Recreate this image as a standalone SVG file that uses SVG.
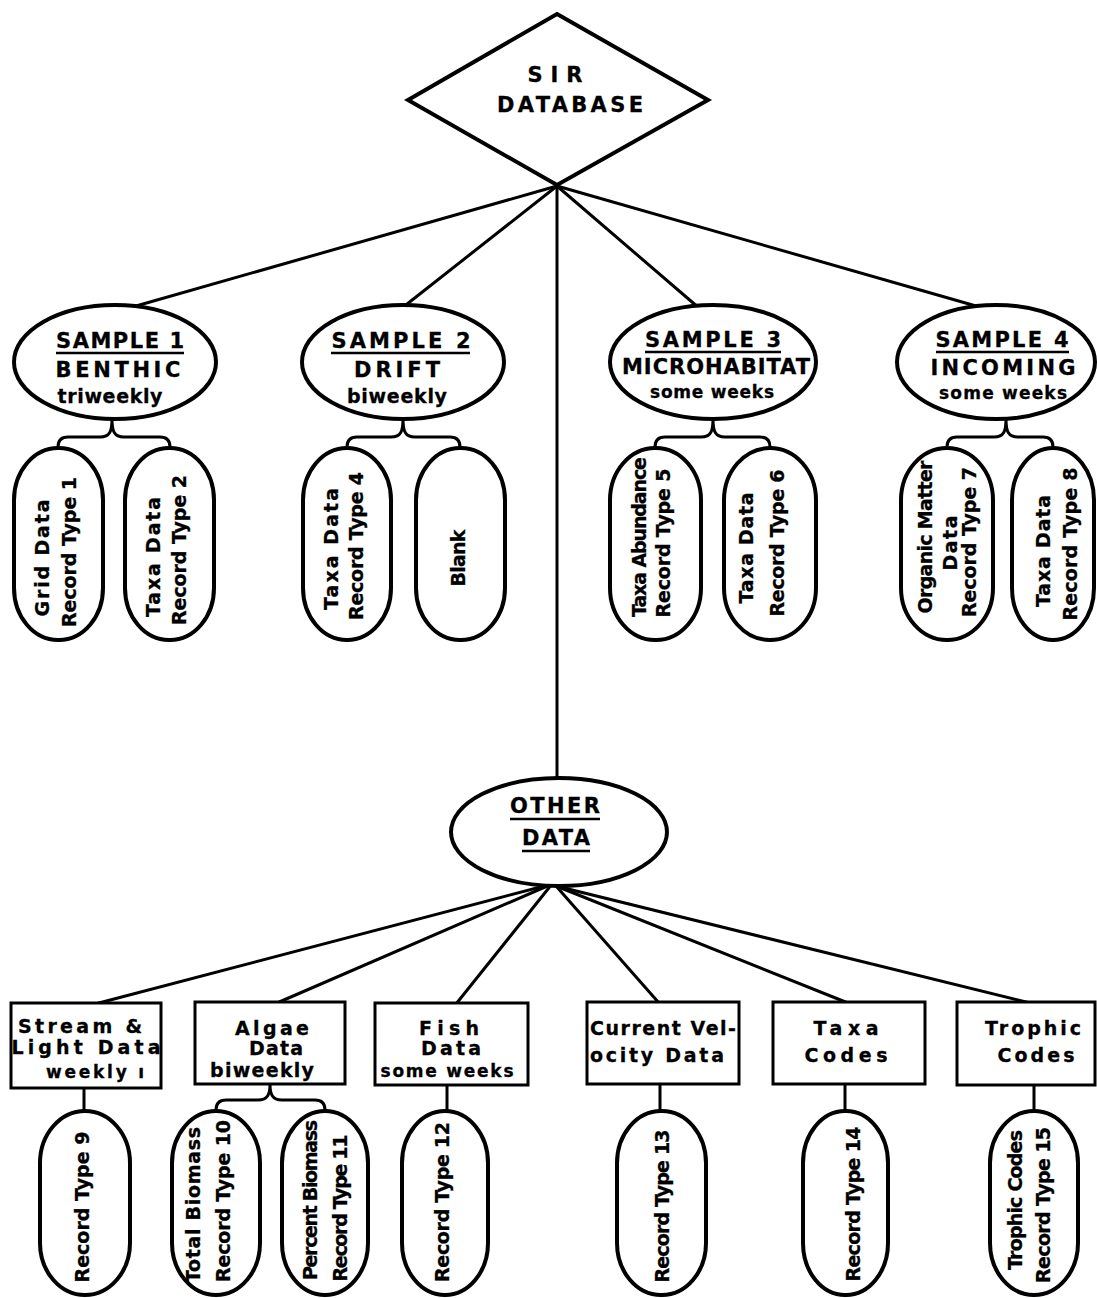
<svg xmlns="http://www.w3.org/2000/svg" width="1097" height="1298" viewBox="0 0 1097 1298">
<style>
.bg{fill:#fff}
.ln{fill:none;stroke:#000;stroke-width:3;stroke-linecap:round;stroke-linejoin:round}
.sh{fill:#fff;stroke:#000;stroke-width:4}
.bx{fill:#fff;stroke:#000;stroke-width:3}
.t{font-family:"DejaVu Sans","Liberation Sans",Arial,sans-serif;font-weight:bold;fill:#000;stroke:#000;stroke-width:0.3}
.c{text-anchor:middle}
.h20{font-size:21px}
.h18{font-size:19px}
.h17{font-size:17px}
.ul{stroke:#000;stroke-width:2.5}
</style>
<rect class="bg" x="0" y="0" width="1097" height="1298"/>
<g id="connectors">
<line class="ln" x1="557" y1="186" x2="129" y2="308"/>
<line class="ln" x1="557" y1="186" x2="402" y2="308"/>
<line class="ln" x1="557" y1="186" x2="557" y2="780"/>
<line class="ln" x1="557" y1="186" x2="699" y2="308"/>
<line class="ln" x1="557" y1="186" x2="990" y2="310"/>
<path class="ln" d="M112,419 C112,431 110,437 100,437 L68,437 Q58,437 58,447 M112,419 C112,431 114,437 124,437 L160,437 Q170,437 170,447"/>
<path class="ln" d="M403,419 C403,431 401,437 391,437 L357,437 Q347,437 347,447 M403,419 C403,431 405,437 415,437 L450,437 Q460,437 460,447"/>
<path class="ln" d="M713,419 C713,431 711,437 701,437 L665,437 Q655,437 655,447 M713,419 C713,431 715,437 725,437 L760,437 Q770,437 770,447"/>
<path class="ln" d="M1006,419 C1006,431 1004,437 994,437 L957,437 Q947,437 947,447 M1006,419 C1006,431 1008,437 1018,437 L1043,437 Q1053,437 1053,447"/>
<line class="ln" x1="552" y1="884" x2="95" y2="1004"/>
<line class="ln" x1="552" y1="884" x2="277" y2="1003"/>
<line class="ln" x1="552" y1="884" x2="456" y2="1004"/>
<line class="ln" x1="556" y1="886" x2="659" y2="1003"/>
<line class="ln" x1="556" y1="886" x2="848" y2="1003"/>
<line class="ln" x1="556" y1="886" x2="1030" y2="1003"/>
<line class="ln" x1="84" y1="1088" x2="84" y2="1111"/>
<path class="ln" d="M270,1084 C270,1094 268,1100 258,1100 L226,1100 Q216,1100 216,1110 M270,1084 C270,1094 272,1100 282,1100 L315,1100 Q325,1100 325,1110"/>
<line class="ln" x1="447" y1="1085" x2="447" y2="1111"/>
<line class="ln" x1="660" y1="1084" x2="660" y2="1111"/>
<line class="ln" x1="845" y1="1084" x2="845" y2="1111"/>
<line class="ln" x1="1034" y1="1085" x2="1034" y2="1111"/>
</g>
<g id="sir-database">
<polygon class="sh" points="557,14 708,100 557,185 408,100"/>
<text class="t c h20" x="555" y="82" textLength="55">SIR</text>
<text class="t c h20" x="570" y="112" textLength="146">DATABASE</text>
</g>
<g id="sample1">
<ellipse class="sh" cx="115" cy="362" rx="101" ry="57"/>
<text class="t c h20" x="120" y="348" textLength="128">SAMPLE 1</text>
<line class="ul" x1="56" y1="353" x2="184" y2="353"/>
<text class="t c h20" x="118" y="377" textLength="125">BENTHIC</text>
<text class="t c h18" x="110" y="403" textLength="105">triweekly</text>
</g>
<g id="sample2">
<ellipse class="sh" cx="403" cy="362" rx="101" ry="57"/>
<text class="t c h20" x="401" y="348" textLength="139">SAMPLE 2</text>
<line class="ul" x1="331" y1="353" x2="470" y2="353"/>
<text class="t c h20" x="397" y="377" textLength="86">DRIFT</text>
<text class="t c h18" x="397" y="403" textLength="100">biweekly</text>
</g>
<g id="sample3">
<ellipse class="sh" cx="713" cy="362" rx="103" ry="57"/>
<text class="t c h20" x="713" y="347" textLength="136">SAMPLE 3</text>
<line class="ul" x1="645" y1="352" x2="781" y2="352"/>
<text class="t c h20" x="716" y="374" textLength="188">MICROHABITAT</text>
<text class="t c h17" x="712" y="398" textLength="124">some weeks</text>
</g>
<g id="sample4">
<ellipse class="sh" cx="996" cy="362" rx="99" ry="57"/>
<text class="t c h20" x="1002" y="347" textLength="133">SAMPLE 4</text>
<line class="ul" x1="936" y1="352" x2="1069" y2="352"/>
<text class="t c h20" x="1003" y="375" textLength="145">INCOMING</text>
<text class="t c h17" x="1003" y="399" textLength="128">some weeks</text>
</g>
<g id="rt1">
<rect class="sh" x="14" y="448" width="89" height="192" rx="44" ry="52"/>
<text class="t c h18" transform="translate(49,558) rotate(-90)" textLength="117">Grid Data</text>
<text class="t c h18" transform="translate(76,552) rotate(-90)" textLength="150">Record Type 1</text>
</g>
<g id="rt2">
<rect class="sh" x="125" y="448" width="89" height="192" rx="44" ry="52"/>
<text class="t c h18" transform="translate(160,557) rotate(-90)" textLength="120">Taxa Data</text>
<text class="t c h18" transform="translate(186,550) rotate(-90)" textLength="150">Record Type 2</text>
</g>
<g id="rt4">
<rect class="sh" x="303" y="448" width="88" height="192" rx="44" ry="52"/>
<text class="t c h18" transform="translate(338,549) rotate(-90)" textLength="122">Taxa Data</text>
<text class="t c h18" transform="translate(363,546) rotate(-90)" textLength="148">Record Type 4</text>
</g>
<g id="blank">
<rect class="sh" x="416" y="448" width="89" height="192" rx="44" ry="52"/>
<text class="t c h18" transform="translate(465,558) rotate(-90)" textLength="57">Blank</text>
</g>
<g id="rt5">
<rect class="sh" x="610" y="448" width="91" height="192" rx="45" ry="52"/>
<text class="t c h18" transform="translate(646,537) rotate(-90)" textLength="160">Taxa Abundance</text>
<text class="t c h18" transform="translate(670,543) rotate(-90)" textLength="149">Record Type 5</text>
</g>
<g id="rt6">
<rect class="sh" x="724" y="448" width="92" height="192" rx="46" ry="52"/>
<text class="t c h18" transform="translate(753,548) rotate(-90)" textLength="111">Taxa Data</text>
<text class="t c h18" transform="translate(784,543) rotate(-90)" textLength="147">Record Type 6</text>
</g>
<g id="rt7">
<rect class="sh" x="901" y="448" width="92" height="192" rx="46" ry="52"/>
<text class="t c h18" transform="translate(932,537) rotate(-90)" textLength="153">Organic Matter</text>
<text class="t c h18" transform="translate(957,543) rotate(-90)" textLength="55">Data</text>
<text class="t c h18" transform="translate(976,542) rotate(-90)" textLength="150">Record Type 7</text>
</g>
<g id="rt8">
<rect class="sh" x="1012" y="448" width="82" height="192" rx="41" ry="52"/>
<text class="t c h18" transform="translate(1050,551) rotate(-90)" textLength="112">Taxa Data</text>
<text class="t c h18" transform="translate(1077,544) rotate(-90)" textLength="153">Record Type 8</text>
</g>
<g id="other-data">
<ellipse class="sh" cx="559" cy="832" rx="108" ry="54"/>
<text class="t c h20" x="555" y="813" textLength="90">OTHER</text>
<line class="ul" x1="510" y1="819" x2="600" y2="819"/>
<text class="t c h20" x="556" y="845" textLength="68">DATA</text>
<line class="ul" x1="522" y1="851" x2="590" y2="851"/>
</g>
<g id="stream-light">
<rect class="bx" x="11" y="1003" width="150" height="85"/>
<text class="t c h18" x="80" y="1033" textLength="124">Stream &amp;</text>
<text class="t c h18" x="86" y="1054" textLength="149">Light Data</text>
<text class="t h17" x="46" y="1078" textLength="98">weekly ı</text>
</g>
<g id="algae">
<rect class="bx" x="195" y="1002" width="150" height="82"/>
<text class="t c h18" x="272" y="1035" textLength="74">Algae</text>
<text class="t c h18" x="276" y="1055" textLength="54">Data</text>
<text class="t c h18" x="262" y="1077" textLength="104">biweekly</text>
</g>
<g id="fish">
<rect class="bx" x="375" y="1003" width="153" height="82"/>
<text class="t c h18" x="449" y="1035" textLength="60">Fish</text>
<text class="t c h18" x="451" y="1055" textLength="60">Data</text>
<text class="t c h17" x="447" y="1077" textLength="133">some weeks</text>
</g>
<g id="current-velocity">
<rect class="bx" x="587" y="1002" width="152" height="82"/>
<text class="t h18" x="590" y="1035" textLength="146">Current Vel-</text>
<text class="t h18" x="590" y="1062" textLength="134">ocity Data</text>
</g>
<g id="taxa-codes">
<rect class="bx" x="773" y="1002" width="152" height="82"/>
<text class="t c h18" x="846" y="1035" textLength="65">Taxa</text>
<text class="t c h18" x="846" y="1062" textLength="83">Codes</text>
</g>
<g id="trophic-codes">
<rect class="bx" x="957" y="1002" width="138" height="83"/>
<text class="t c h18" x="1033" y="1035" textLength="96">Trophic</text>
<text class="t c h18" x="1036" y="1062" textLength="77">Codes</text>
</g>
<g id="rt9">
<rect class="sh" x="40" y="1111" width="90" height="184" rx="45" ry="52"/>
<text class="t c h18" transform="translate(89,1207) rotate(-90)" textLength="151">Record Type 9</text>
</g>
<g id="rt10">
<rect class="sh" x="172" y="1111" width="88" height="184" rx="44" ry="52"/>
<text class="t c h18" transform="translate(200,1205) rotate(-90)" textLength="156">Total Biomass</text>
<text class="t c h18" transform="translate(230,1201) rotate(-90)" textLength="162">Record Type 10</text>
</g>
<g id="rt11">
<rect class="sh" x="282" y="1111" width="86" height="184" rx="43" ry="52"/>
<text class="t c h18" transform="translate(317,1200) rotate(-90)" textLength="160">Percent Biomass</text>
<text class="t c h18" transform="translate(347,1208) rotate(-90)" textLength="147">Record Type 11</text>
</g>
<g id="rt12">
<rect class="sh" x="402" y="1111" width="86" height="184" rx="43" ry="52"/>
<text class="t c h18" transform="translate(449,1202) rotate(-90)" textLength="160">Record Type 12</text>
</g>
<g id="rt13">
<rect class="sh" x="617" y="1111" width="89" height="184" rx="44" ry="52"/>
<text class="t c h18" transform="translate(669,1206) rotate(-90)" textLength="153">Record Type 13</text>
</g>
<g id="rt14">
<rect class="sh" x="803" y="1111" width="85" height="184" rx="42" ry="52"/>
<text class="t c h18" transform="translate(860,1204) rotate(-90)" textLength="155">Record Type 14</text>
</g>
<g id="rt15">
<rect class="sh" x="990" y="1111" width="88" height="184" rx="44" ry="52"/>
<text class="t c h18" transform="translate(1022,1200) rotate(-90)" textLength="140">Trophic Codes</text>
<text class="t c h18" transform="translate(1050,1205) rotate(-90)" textLength="156">Record Type 15</text>
</g>
</svg>
